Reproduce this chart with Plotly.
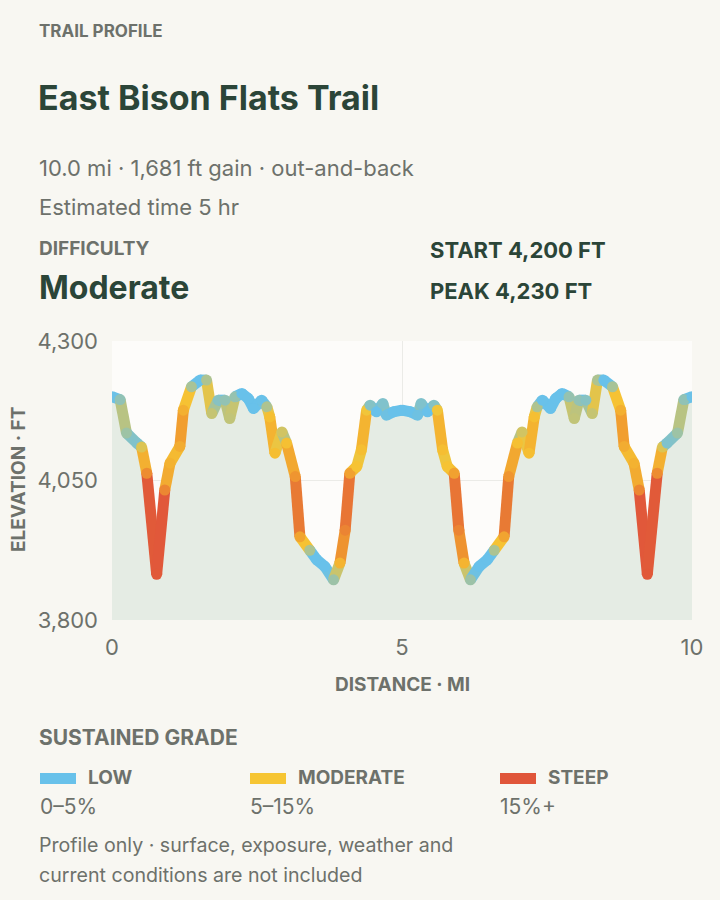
import plotly.graph_objects as go

# ---------------- data ----------------
dist_mi = [0.00, 0.14, 0.25, 0.43, 0.51, 0.60, 0.77, 0.91, 1.00, 1.17,
           1.23, 1.37, 1.52, 1.63, 1.72, 1.83, 1.95, 2.03, 2.12, 2.24,
           2.35, 2.44, 2.58, 2.67, 2.72, 2.81, 2.93, 3.01, 3.16, 3.24,
           3.41, 3.53, 3.67, 3.82, 3.93, 4.02, 4.10, 4.22, 4.30, 4.39,
           4.45, 4.56, 4.67, 4.73, 4.85, 5.00,
           5.15, 5.27, 5.33, 5.44, 5.55, 5.61, 5.70, 5.78, 5.90, 5.98,
           6.07, 6.18, 6.33, 6.47, 6.59, 6.76, 6.84, 6.99, 7.07, 7.19,
           7.28, 7.33, 7.42, 7.56, 7.65, 7.76, 7.88, 7.97, 8.05, 8.17,
           8.28, 8.37, 8.48, 8.63, 8.77, 8.83, 9.00, 9.09, 9.23, 9.40,
           9.49, 9.57, 9.75, 9.86, 10.00]
elev_ft = [4200, 4195, 4135, 4117, 4110, 4063, 3882, 4033, 4081, 4111,
           4176, 4218, 4230, 4230, 4170, 4194, 4194, 4161, 4200, 4206,
           4197, 4179, 4194, 4182, 4164, 4099, 4137, 4117, 4057, 3949,
           3925, 3908, 3896, 3872, 3902, 3961, 4063, 4075, 4105, 4176,
           4185, 4173, 4188, 4167, 4173, 4176,
           4173, 4167, 4188, 4173, 4185, 4176, 4105, 4075, 4063, 3961,
           3902, 3872, 3896, 3908, 3925, 3949, 4057, 4117, 4137, 4099,
           4164, 4182, 4194, 4179, 4197, 4206, 4200, 4161, 4194, 4194,
           4170, 4230, 4230, 4218, 4176, 4111, 4081, 4033, 3882, 4063,
           4110, 4117, 4135, 4195, 4200]

y_ticks = [3800, 4050, 4300]
x_ticks = [0, 5, 10]
grade_labels = ["LOW", "MODERATE", "STEEP"]
grade_ranges = ["0–5%", "5–15%", "15%+"]
grade_colors = ["#68c1ea", "#f6c533", "#e0553a"]

# ---------------- styling ----------------
BG = "#f8f7f2"
PLOT_BG = "#fdfcfa"
GREEN = "#2b4538"
GRAY = "#6d716b"
FONT = "Inter"

L, R_EDGE, TOP, BOT = 112, 692, 341, 620
W, H = R_EDGE - L, BOT - TOP


def px(x):
    return (x - L) / W


def py(y):
    return (BOT - y) / H


def hex2rgb(h):
    h = h.lstrip("#")
    return tuple(int(h[i:i + 2], 16) for i in (0, 2, 4))


stops = [(0, "#68c1ea"), (3, "#68c1ea"), (8, "#f6c533"), (13, "#f09a2f"), (18, "#e0553a")]


def grade_color(g):
    g = abs(g)
    if g <= stops[0][0]:
        return stops[0][1]
    for (g0, c0), (g1, c1) in zip(stops[:-1], stops[1:]):
        if g <= g1:
            t = (g - g0) / (g1 - g0)
            a, b = hex2rgb(c0), hex2rgb(c1)
            return "rgb(%d,%d,%d)" % tuple(round(a[i] + (b[i] - a[i]) * t) for i in range(3))
    return stops[-1][1]


n = len(dist_mi)
raw = [abs(elev_ft[i + 1] - elev_ft[i]) / ((dist_mi[i + 1] - dist_mi[i]) * 5280) * 100
       for i in range(n - 1)]
# light smoothing of the grade for colouring
seg_grades = []
for i in range(n - 1):
    a = raw[i - 1] if i > 0 else raw[i]
    b = raw[i + 1] if i < n - 2 else raw[i]
    seg_grades.append((a + 2 * raw[i] + b) / 4)

fig = go.Figure()
fig.add_trace(go.Scatter(x=dist_mi, y=elev_ft, mode="lines", line=dict(width=0, color="rgba(0,0,0,0)"),
                         fill="tozeroy", fillcolor="#e5ece4", hoverinfo="skip", showlegend=False))
for i in range(n - 1):
    fig.add_trace(go.Scatter(x=dist_mi[i:i + 2], y=elev_ft[i:i + 2], mode="lines",
                             line=dict(width=11, color=grade_color(seg_grades[i])),
                             hoverinfo="skip", showlegend=False))
vcols = []
for i in range(n):
    gs = []
    if i > 0:
        gs.append(seg_grades[i - 1])
    if i < n - 1:
        gs.append(seg_grades[i])
    vcols.append(grade_color(sum(gs) / len(gs)))
fig.add_trace(go.Scatter(x=dist_mi, y=elev_ft, mode="markers",
                         marker=dict(size=11, color=vcols, line=dict(width=0)),
                         hoverinfo="skip", showlegend=False))

ann = []


def text(x, y, s, size, color, bold=False, anchor="left", **kw):
    ann.append(dict(x=px(x), y=py(y), xref="paper", yref="paper", text=("<b>%s</b>" % s) if bold else s,
                    showarrow=False, xanchor=anchor, yanchor="middle",
                    font=dict(family=FONT, size=size, color=color), **kw))


text(37, 31, "TRAIL PROFILE", 17, GRAY, True)
text(36, 97, "East Bison Flats Trail", 34, GREEN, True)
text(37, 168, "10.0 mi · 1,681 ft gain · out-and-back", 22, GRAY)
text(37, 207, "Estimated time 5 hr", 22, GRAY)
text(37, 248, "DIFFICULTY", 19, GRAY, True)
text(37, 287, "Moderate", 32, GREEN, True)
text(428, 250, "START 4,200 FT", 22, GREEN, True)
text(428, 291, "PEAK 4,230 FT", 22, GREEN, True)
text(402, 684, "DISTANCE · MI", 19, GRAY, True, anchor="center")
text(18, 480, "ELEVATION · FT", 19, GRAY, True, anchor="center", textangle=-90)
text(37, 737, "SUSTAINED GRADE", 21, GRAY, True)
text(37, 845, "Profile only · surface, exposure, weather and", 19.6, GRAY)
text(37, 875, "current conditions are not included", 19.6, GRAY)

shapes = []
legend_x = [40, 250, 500]
for x0, lab, rng, col in zip(legend_x, grade_labels, grade_ranges, grade_colors):
    shapes.append(dict(type="rect", xref="paper", yref="paper", x0=px(x0), x1=px(x0 + 36),
                       y0=py(784), y1=py(773), fillcolor=col, line=dict(width=0)))
    text(x0 + 46, 777, lab, 19, GRAY, True)
    text(x0 - 2, 806, rng, 21, GRAY)

fig.update_layout(
    width=720, height=900,
    margin=dict(l=L, r=720 - R_EDGE, t=TOP, b=900 - BOT),
    paper_bgcolor=BG, plot_bgcolor=PLOT_BG,
    annotations=ann, shapes=shapes, showlegend=False,
    xaxis=dict(range=[0, 10], tickvals=x_ticks, ticktext=[str(v) for v in x_ticks],
               showgrid=True, gridcolor="#ebebe7", gridwidth=1, zeroline=False, showline=False,
               tickfont=dict(family=FONT, size=22, color=GRAY), ticks="", ticklen=0,
               ticklabelstandoff=12),
    yaxis=dict(range=[3800, 4300], tickvals=y_ticks, ticktext=["{:,}".format(v) for v in y_ticks],
               showgrid=True, gridcolor="#ebebe7", gridwidth=1, zeroline=False, showline=False,
               tickfont=dict(family=FONT, size=22, color=GRAY), ticks="", ticklen=0,
               ticklabelstandoff=13),
)
fig.write_html("out.html", config={"displayModeBar": False},
               post_script="document.body.style.margin='0';document.body.style.background='%s';" % BG)
